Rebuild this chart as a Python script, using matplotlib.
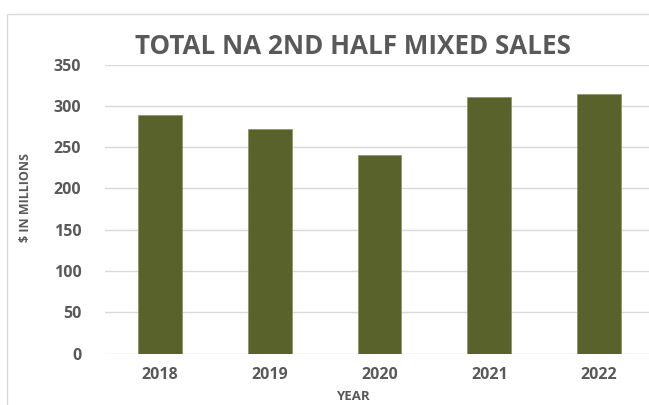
import matplotlib
matplotlib.use("Agg")
import matplotlib.pyplot as plt
from matplotlib.patches import Rectangle

# datos
years = ["2018", "2019", "2020", "2021", "2022"]
sales = [289, 272, 240, 311, 314]
yticks = [0, 50, 100, 150, 200, 250, 300, 350]

bar_color = "#58622a"
text_color = "#595959"
grid_color = "#d9d9d9"

plt.rcParams["font.family"] = ["Open Sans", "DejaVu Sans"]

fig = plt.figure(figsize=(6.49, 4.05), dpi=100)

# marco gris del area del grafico (recortado a la derecha y abajo)
fig.patches.append(Rectangle((7 / 649, -0.1), 1.2, 1 - 14 / 405 + 0.1,
                             transform=fig.transFigure, fill=False,
                             edgecolor=grid_color, linewidth=1))

ax = fig.add_axes([105 / 649, 51.5 / 405, 549 / 649, 288.8 / 405])

x = range(len(years))
ax.bar(x, sales, width=0.4, color=bar_color, edgecolor="#8a9160",
       linewidth=0.5, zorder=3)

ax.set_xlim(-0.5, len(years) - 0.5)
ax.set_ylim(0, 350)
ax.set_yticks(yticks)
ax.set_xticks(list(x))
ax.set_xticklabels(years)
ax.yaxis.grid(True, color=grid_color, linewidth=1, zorder=0)
ax.set_axisbelow(True)
for s in ax.spines.values():
    s.set_visible(False)
ax.tick_params(axis="both", length=0, colors=text_color, labelsize=11.5)
ax.tick_params(axis="y", pad=17)
ax.tick_params(axis="x", pad=10)
for lab in ax.get_xticklabels() + ax.get_yticklabels():
    lab.set_fontweight("bold")

fig.text(353 / 649, 1 - 47 / 405, "TOTAL NA 2ND HALF MIXED SALES",
         ha="center", va="center", fontsize=18.7, fontweight="bold",
         color=text_color)
fig.text(26 / 649, 1 - 197 / 405, "$ IN MILLIONS", rotation=90,
         ha="center", va="center", fontsize=9, fontweight="bold",
         color=text_color)
fig.text(353 / 649, 1 - 397 / 405, "YEAR", ha="center", va="center",
         fontsize=9.5, fontweight="bold", color=text_color)

fig.savefig("out.png", dpi=100)
